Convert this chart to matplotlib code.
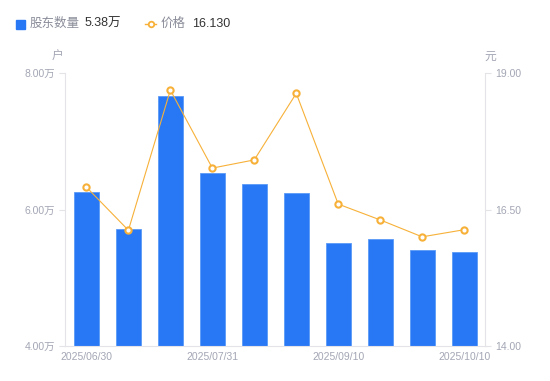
import matplotlib
matplotlib.use('Agg')
import matplotlib.pyplot as plt
from matplotlib.lines import Line2D
from matplotlib.patches import Rectangle

plt.rcParams['font.family'] = ['Liberation Sans', 'Noto Sans CJK SC', 'DejaVu Sans']

dates = ['2025/06/30', '2025/07/10', '2025/07/20', '2025/07/31', '2025/08/20',
         '2025/08/31', '2025/09/10', '2025/09/19', '2025/09/30', '2025/10/10']
holders = [6.26, 5.71, 7.66, 6.53, 6.37, 6.24, 5.51, 5.57, 5.41, 5.38]   # 万户
price = [16.91, 16.12, 18.69, 17.26, 17.41, 18.63, 16.60, 16.31, 16.00, 16.13]
shown_ticks = [0, 3, 6, 9]

BLUE = '#2878f5'
ORANGE = '#f7b139'
GREY = '#a3a6b4'
AXIS = '#e3e3e8'

fig = plt.figure(figsize=(5.5, 3.81), dpi=100)
ax = fig.add_axes([0.119, 0.092, 0.763, 0.716])
ax2 = ax.twinx()

x = list(range(len(dates)))
ax.bar(x, holders, width=0.6, color=BLUE, edgecolor='#5a9af7', linewidth=0.6, zorder=2)
ax.set_xlim(-0.5, len(dates) - 0.5)
ax.set_ylim(4, 8)
ax.set_yticks([4, 6, 8])
ax.set_yticklabels(['%.2f万' % v for v in [4, 6, 8]])
ax.set_xticks(shown_ticks)
ax.set_xticklabels([dates[i] for i in shown_ticks])

ax2.plot(x, price, color=ORANGE, linewidth=0.8, marker='o', markersize=4.5,
         markerfacecolor='white', markeredgecolor=ORANGE, markeredgewidth=1.5, zorder=3)
ax2.set_ylim(14, 19)
ax2.set_yticks([14, 16.5, 19])
ax2.set_yticklabels(['%.2f' % v for v in [14, 16.5, 19]])

for a in (ax, ax2):
    for s in a.spines.values():
        s.set_visible(False)
    a.tick_params(colors=GREY, labelsize=7.5, length=4, width=0.8, color=AXIS)
ax.spines['left'].set_visible(True)
ax.spines['left'].set_color(AXIS)
ax.spines['bottom'].set_visible(True)
ax.spines['bottom'].set_color(AXIS)
ax2.spines['right'].set_visible(True)
ax2.spines['right'].set_color(AXIS)
ax.tick_params(axis='x', length=0, pad=4)
ax.set_zorder(1)
ax2.set_zorder(2)

# unit labels
fig.text(58 / 550, 1 - 57 / 381, '户', color=GREY, fontsize=8.5, ha='center', va='center')
fig.text(490 / 550, 1 - 57 / 381, '元', color=GREY, fontsize=8.5, ha='center', va='center')

# legend
fig.patches.append(Rectangle((16 / 550, 1 - 29 / 381), 9 / 550, 9 / 381,
                             transform=fig.transFigure, color=BLUE, figure=fig))
fig.text(30 / 550, 1 - 24 / 381, '股东数量', color='#8a8d99', fontsize=9, va='center')
fig.text(85 / 550, 1 - 24 / 381, '%.2f万' % holders[-1], color='#333333', fontsize=9, va='center')
fig.lines.append(Line2D([145 / 550, 156 / 550], [1 - 24 / 381] * 2, transform=fig.transFigure,
                        color=ORANGE, linewidth=1, figure=fig))
fig.lines.append(Line2D([150.5 / 550], [1 - 24 / 381], transform=fig.transFigure,
                        color=ORANGE, marker='o', markersize=4, markerfacecolor='white',
                        markeredgewidth=1.3, linestyle='none', figure=fig))
fig.text(161 / 550, 1 - 24 / 381, '价格', color='#8a8d99', fontsize=9, va='center')
fig.text(192 / 550, 1 - 24 / 381, '%.3f' % price[-1], color='#333333', fontsize=9, va='center')

fig.savefig('out.png', dpi=100)
